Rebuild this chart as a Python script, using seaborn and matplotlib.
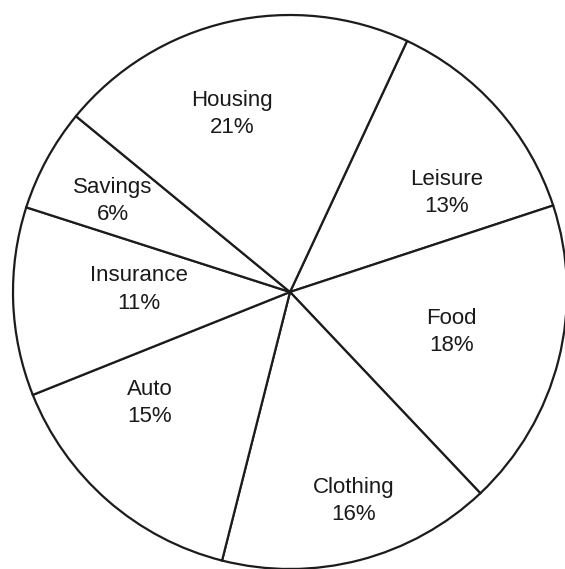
import numpy as np
import matplotlib
matplotlib.use("Agg")
import matplotlib.pyplot as plt
import seaborn as sns

# ---- data ----
categories = ["Leisure", "Food", "Clothing", "Auto", "Insurance", "Savings", "Housing"]
shares = [13, 18, 16, 15, 11, 6, 21]

# ---- layout (label placement relative to each wedge) ----
label_radius = [0.67, 0.60, 0.79, 0.646, 0.545, 0.72, 0.675]
label_angle_shift = [-9.4, 0.3, 2.4, -10.4, -3.0, 1.5, 5.2]

sns.set_theme(style="white")
plt.rcParams["font.family"] = ["Liberation Sans", "DejaVu Sans"]

fig = plt.figure(figsize=(5.65, 5.69), dpi=100)
fig.patch.set_facecolor("white")
ax = fig.add_axes([0, 0, 1, 1])

wedges, _ = ax.pie(
    shares,
    startangle=65,
    counterclock=False,
    colors=["white"] * len(shares),
    wedgeprops=dict(edgecolor="#1c1c1c", linewidth=1.6, antialiased=True),
)

for w, name, val, r, sh in zip(wedges, categories, shares, label_radius, label_angle_shift):
    mid = np.deg2rad((w.theta1 + w.theta2) / 2 + sh)
    ax.text(r * np.cos(mid), r * np.sin(mid), f"{name}\n{val}%",
            ha="center", va="center", fontsize=16, color="#1a1a1a",
            linespacing=1.4)

ax.set_aspect("auto")
ax.set_xlim(-290 / 277, 275 / 277)
ax.set_ylim(-277 / 277, 292 / 277)
ax.set_axis_off()

fig.savefig("out.png", dpi=100, facecolor="white")
